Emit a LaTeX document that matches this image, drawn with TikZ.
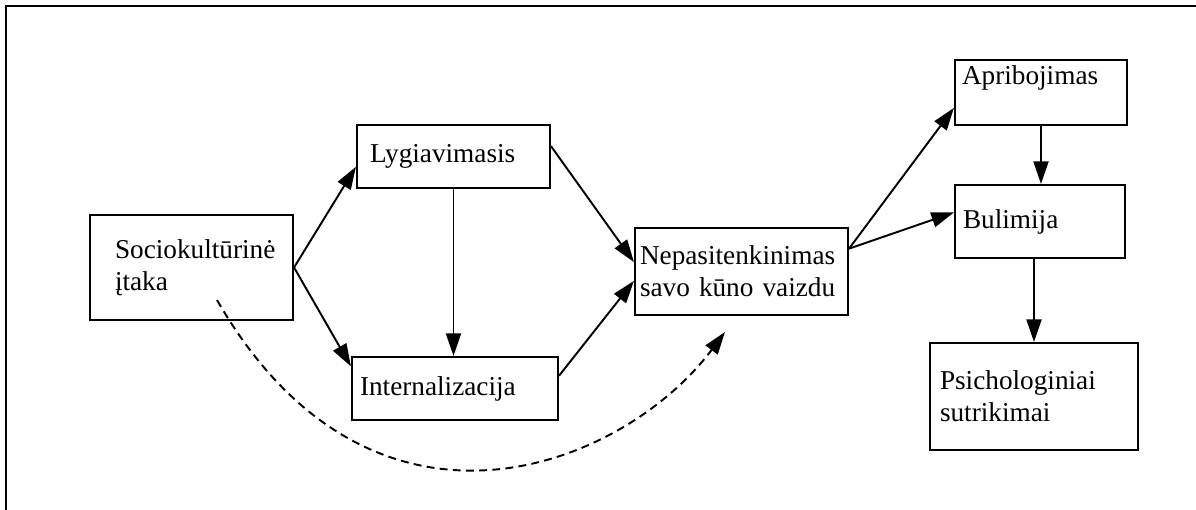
\documentclass[tikz,border=0pt]{standalone}
\usepackage{fontspec}
\setmainfont{Liberation Serif}
\usepackage{tikz}
\usetikzlibrary{arrows.meta,positioning,calc}

\tikzset{
  box/.style={draw, line width=1.2pt, align=left, inner ysep=0pt, font=\fontsize{15.5}{18}\selectfont},
  link/.style={-{Triangle[length=4.5mm,width=3mm]}, line width=1.1pt},
}

\begin{document}
\begin{tikzpicture}
        \useasboundingbox (0,0) rectangle (23.92,-10.2);
        \clip (0,0) rectangle (23.92,-10.2);

        % Frame
        \draw[line width=1.4pt] (0.12,-0.12) rectangle (24.5,-10.8);

        % Boxes
        \node[box, text width=3.06cm, inner xsep=0.5cm, minimum height=2.1cm] (soc) at (3.83,-5.35) {Sociokultūrinė\\įtaka};
        \node[box, text width=3.34cm, inner xsep=0.26cm, minimum height=1.26cm] (lyg) at (9.07,-3.13) {Lygiavimasis};
        \node[box, text width=3.80cm, inner xsep=0.16cm, minimum height=1.26cm] (int) at (9.10,-7.77) {Internalizacija};
        \node[box, text width=4.06cm, inner xsep=0.1cm, minimum height=1.74cm] (nep) at (14.83,-5.43) {Nepasitenkinimas\\\mbox{savo kūno vaizdu}};
        \node[box, text width=3.16cm, inner xsep=0.14cm, text height=0.5cm, text depth=0.8cm] (apr) at (20.82,-1.85) {Apribojimas};
        \node[box, text width=3.08cm, inner xsep=0.16cm, minimum height=1.46cm] (bul) at (20.8,-4.43) {Bulimija};
        \node[box, text width=3.76cm, inner xsep=0.2cm, minimum height=2.14cm] (psy) at (20.68,-7.93) {Psichologiniai\\sutrikimai};

        % Links
        \draw[link] (soc.east) -- (lyg.186);
        \draw[link] (soc.east) -- (int.168);
        \draw[link] (lyg.south) -- (lyg.south |- int.north);
        \draw[link] (lyg.6) -- (nep.175);
        \draw[link] (int.7) -- (nep.185);
        \draw[link] (nep.12) -- (apr.190);
        \draw[link] (nep.12) -- (bul.174);
        \draw[link] (apr.south) -- (apr.south |- bul.north);
        \draw[link] (psy.north |- bul.south) -- (psy.north);

        % Indirect influence
        \coordinate (dstart) at (4.34,-6.0);
        \coordinate (dend) at (14.5,-6.64);
        \draw[link, dash pattern=on 4.5pt off 3pt] (dstart) .. controls (7.42,-11.35) and (12.44,-9.39) .. (dend);
      \end{tikzpicture}
\end{document}
